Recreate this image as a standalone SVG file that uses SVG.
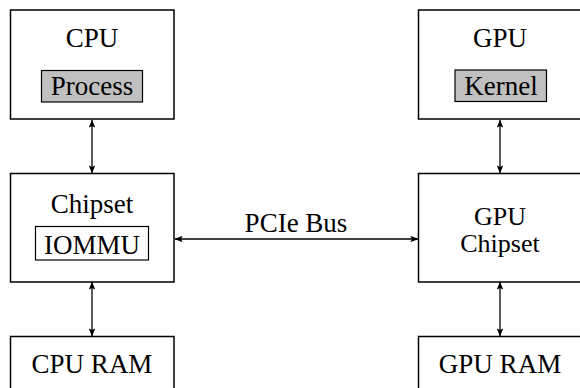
<svg xmlns="http://www.w3.org/2000/svg" width="580" height="388" viewBox="0 0 580 388" font-family="Liberation Serif, DejaVu Serif, serif" font-size="26" text-anchor="middle">
<style>
.box{fill:#fff;stroke:#000;stroke-width:1.5}
.inner{stroke:#000;stroke-width:1.2}
.gray{fill:#c0c0c0}
.white{fill:#fff}
.conn{stroke:#000;stroke-width:1.3;fill:none;marker-start:url(#ah);marker-end:url(#ah)}
</style>
<defs>
<marker id="ah" viewBox="0 0 10 8" refX="9.5" refY="4" markerWidth="8" markerHeight="6.4" markerUnits="userSpaceOnUse" orient="auto-start-reverse">
<path d="M0,0 L10,4 L0,8 L2,4 Z" fill="#000"/>
</marker>
</defs>
<g id="connectors">
<line class="conn" x1="92" y1="120" x2="92" y2="173"/>
<line class="conn" x1="92" y1="282" x2="92" y2="336"/>
<line class="conn" x1="500" y1="120" x2="500" y2="173"/>
<line class="conn" x1="500" y1="282" x2="500" y2="336"/>
<line class="conn" x1="175" y1="239" x2="418" y2="239"/>
<text x="296" y="232" font-size="27">PCIe Bus</text>
</g>
<g id="cpu">
<rect class="box" x="10.5" y="10" width="163.5" height="109"/>
<text x="92" y="47" font-size="27">CPU</text>
<rect class="inner gray" x="41.5" y="70.5" width="101" height="31.5"/>
<text x="92" y="95" font-size="27">Process</text>
</g>
<g id="chipset">
<rect class="box" x="10.5" y="173.5" width="163.5" height="108.5"/>
<text x="92" y="213" font-size="27">Chipset</text>
<rect class="inner white" x="35.5" y="226.5" width="113" height="33.5"/>
<text x="92" y="254" font-size="27">IOMMU</text>
</g>
<g id="cpuram">
<rect class="box" x="10.5" y="336.5" width="163.5" height="80"/>
<text x="92" y="373" font-size="27">CPU RAM</text>
</g>
<g id="gpu">
<rect class="box" x="418.5" y="10" width="163.5" height="109"/>
<text x="500" y="47" font-size="27">GPU</text>
<rect class="inner gray" x="455" y="70" width="91.5" height="31.5"/>
<text x="501" y="95" font-size="27">Kernel</text>
</g>
<g id="gpuchipset">
<rect class="box" x="418.5" y="173.5" width="163.5" height="108.5"/>
<text x="500" y="225">GPU</text>
<text x="500" y="252">Chipset</text>
</g>
<g id="gpuram">
<rect class="box" x="418.5" y="336.5" width="163.5" height="80"/>
<text x="500" y="373" font-size="27">GPU RAM</text>
</g>
</svg>
